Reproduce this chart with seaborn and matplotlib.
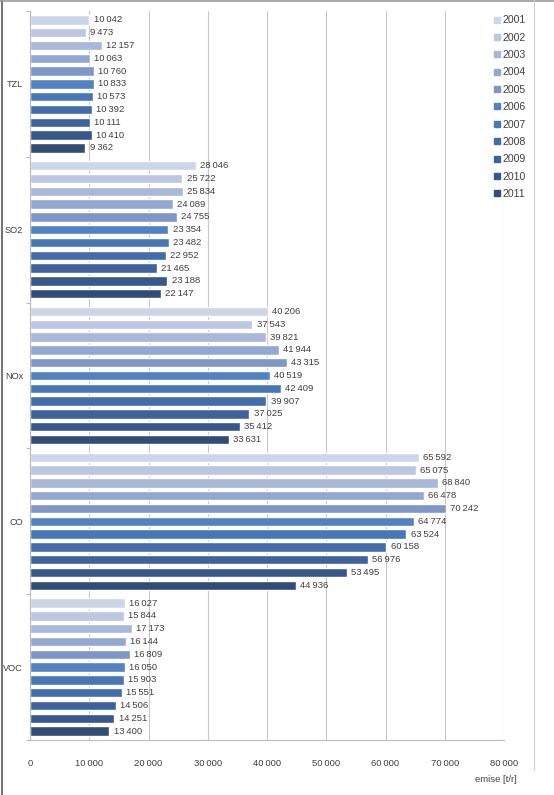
import numpy as np
import pandas as pd
import matplotlib
matplotlib.use('Agg')
import matplotlib.pyplot as plt
from matplotlib.lines import Line2D
import seaborn as sns

# ── data ────────────────────────────────────────────────────────────────────
POLLUTANTS = ['TZL', 'SO2', 'NOx', 'CO', 'VOC']
YEARS = [str(y) for y in range(2001, 2012)]

TZL = [10042, 9473, 12157, 10063, 10760, 10833, 10573, 10392, 10111, 10410, 9362]
SO2 = [28046, 25722, 25834, 24089, 24755, 23354, 23482, 22952, 21465, 23188, 22147]
NOX = [40206, 37543, 39821, 41944, 43315, 40519, 42409, 39907, 37025, 35412, 33631]
CO = [65592, 65075, 68840, 66478, 70242, 64774, 63524, 60158, 56976, 53495, 44936]
VOC = [16027, 15844, 17173, 16144, 16809, 16050, 15903, 15551, 14506, 14251, 13400]

XTICKS = list(range(0, 80001, 10000))

COLORS = ['#cdd5e8', '#bcc7e2', '#a9b7d9', '#93a8d1', '#7e97c8', '#5282c2',
          '#4877b8', '#426daa', '#3e629b', '#38578a', '#324c76']

rows = []
for name, vals in zip(POLLUTANTS, [TZL, SO2, NOX, CO, VOC]):
    for yr, v in zip(YEARS, vals):
        rows.append({'pollutant': name, 'year': yr, 'value': v})
df = pd.DataFrame(rows)


def fmt(v):
    return f'{v:,}'.replace(',', '\u2009')


sns.set_style('white')
plt.rcParams['font.family'] = ['Liberation Sans', 'DejaVu Sans']
TXT = '#404040'

fig = plt.figure(figsize=(5.54, 7.95), dpi=100)
ax = fig.add_axes([30 / 554, 1 - 740 / 795, 474 / 554, 729 / 795])

sns.barplot(data=df, y='pollutant', x='value', hue='year', order=POLLUTANTS,
            hue_order=YEARS, palette=COLORS, width=0.965, gap=0.26,
            orient='h', ax=ax, legend=False, saturation=1)

for cont in ax.containers:
    ax.bar_label(cont, labels=[fmt(int(b.get_width())) for b in cont],
                 padding=3, fontsize=6.8, color=TXT)

ax.set_xlim(0, 80000)
ax.set_ylim(4.5, -0.5)
ax.set_xticks(XTICKS)
ax.set_xticklabels([fmt(t) for t in XTICKS], fontsize=6.8, color=TXT)
ax.tick_params(axis='x', length=0, pad=14)
ax.set_yticks(range(len(POLLUTANTS)))
ax.set_yticklabels(POLLUTANTS, fontsize=6.6, color=TXT)
ax.set_yticks(np.arange(-0.5, 5.0, 1.0), minor=True)
ax.tick_params(axis='y', which='major', length=0, pad=5)
ax.tick_params(axis='y', which='minor', length=3, color='#bbbbbb', width=0.8,
               left=True, direction='out')
ax.set_xlabel('')
ax.set_ylabel('')
ax.grid(axis='x', color='#c8c8c8', linewidth=0.8)
ax.set_axisbelow(True)
for side in ['top', 'right']:
    ax.spines[side].set_visible(False)
for side in ['left', 'bottom']:
    ax.spines[side].set_color('#bbbbbb')
    ax.spines[side].set_linewidth(0.8)

fig.text(517 / 554, 1 - 779 / 795, 'emise [t/r]', ha='right', va='center',
         fontsize=6.8, color=TXT)

handles = [Line2D([], [], marker='s', linestyle='', markersize=4,
                  markerfacecolor=c, markeredgecolor=c) for c in COLORS]
fig.legend(handles, YEARS, loc='upper left',
           bbox_to_anchor=(490 / 554, 1 - 11 / 795), frameon=False,
           fontsize=7.6, labelspacing=0.7, handlelength=0.55,
           handletextpad=0.25, borderaxespad=0, labelcolor=TXT)

# outer frame lines
fig.add_artist(Line2D([1.5 / 554, 1.5 / 554], [0, 1], color='#777777', lw=1.5))
fig.add_artist(Line2D([0, 1], [1 - 1 / 795, 1 - 1 / 795], color='#999999', lw=1.2))
fig.add_artist(Line2D([534 / 554, 534 / 554], [1 - 770 / 795, 1],
                      color='#d0d0d0', lw=0.8))

fig.savefig('out.png', dpi=100)
